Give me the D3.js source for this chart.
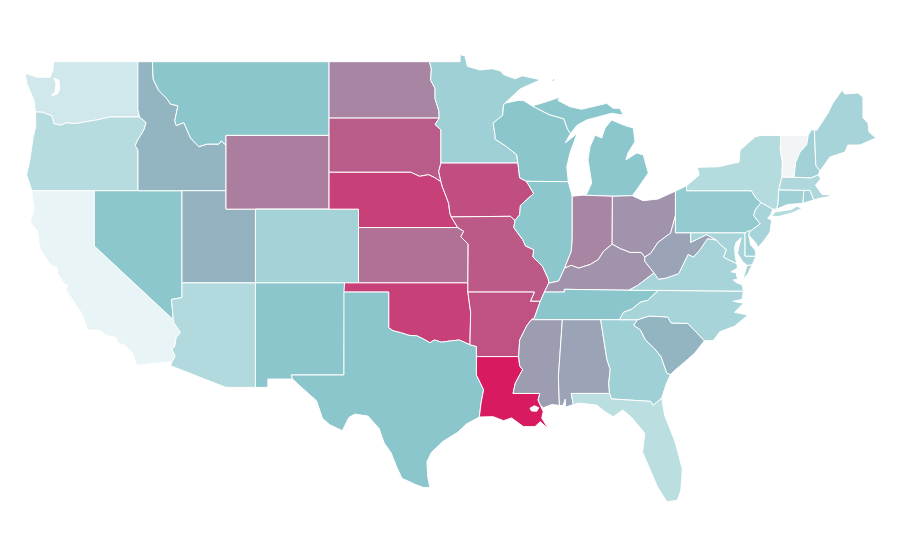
<!DOCTYPE html>
<html><head><meta charset="utf-8">
<style>html,body{margin:0;background:#fff}svg{display:block}</style>
<script src="https://cdn.jsdelivr.net/npm/d3@7"></script></head><body>
<svg id="map" width="900" height="560"></svg>
<script>
const stateNames=["WA","OR","CA","NV","ID","UT","AZ","MT","WY","CO","NM","ND","SD","NE","KS","OK","TX","MN","IA","MO","AR","LA","WI","IL","MI","IN","OH","KY","TN","MS","AL","GA","FL","SC","NC","VA","WV","MD","DE","PA","NJ","NY","CT","RI","MA","VT","NH","ME"];
const stateValues=[20,31,10,49,55,56,33,50,71,39,50,69,81,89,75,89,50,41,85,82,84,100,50,49,49,69,65,65,50,62,60,41,29,55,38,38,60,38,41,46,38,32,41,40,34,null,40,38];
const colorStops=["#ffffff","#8ac6cc","#d81b60"];
const valueStops=[0,50,100];
const noDataColor="#f3f4f6";
const lonDomain=[-124.73,-66.95];
const latDomain=[49,25];

const outlines={
WA:[[[-124.7,48.38],[-123.9,48.16],[-123,48.15],[-122.8,48.55],[-122.77,49],[-117.04,49],[-117.04,46.4],[-116.92,46],[-118.98,46],[-119.3,45.93],[-119.9,45.83],[-120.6,45.74],[-121.2,45.65],[-121.9,45.68],[-122.3,45.55],[-122.75,45.65],[-122.8,45.85],[-122.9,46.08],[-123.2,46.15],[-123.5,46.26],[-124,46.27],[-124.1,46.9],[-124.3,47.3],[-124.6,47.85]],[[-122.75,48.1],[-122.4,48],[-122.35,47.5],[-122.5,47.25],[-122.9,47.15],[-122.65,47.4],[-122.6,47.85]]],
OR:[[[-124,46.27],[-123.5,46.26],[-123.2,46.15],[-122.9,46.08],[-122.8,45.85],[-122.75,45.65],[-122.3,45.55],[-121.9,45.68],[-121.2,45.65],[-120.6,45.74],[-119.9,45.83],[-119.3,45.93],[-118.98,46],[-116.92,46],[-116.48,45.7],[-116.6,45.35],[-116.85,45],[-117.05,44.75],[-117.22,44.45],[-117.03,44.2],[-117.03,43.8],[-117.03,42],[-124.25,42],[-124.4,42.4],[-124.6,42.85],[-124.37,43.7],[-124.15,44.9],[-123.97,45.5]]],
CA:[[[-124.25,42],[-120,42],[-120,39],[-114.63,35],[-114.57,34.8],[-114.14,34.3],[-114.43,34.05],[-114.53,33.55],[-114.72,33.4],[-114.5,33],[-114.72,32.72],[-117.12,32.53],[-117.25,32.85],[-117.4,33.2],[-117.9,33.6],[-118.4,33.75],[-118.5,34.03],[-119.2,34.15],[-119.6,34.42],[-120.47,34.45],[-120.65,34.9],[-120.9,35.4],[-121.9,36.6],[-121.8,36.85],[-122.05,36.95],[-122.5,37.5],[-122.5,37.8],[-123,38],[-123.7,38.9],[-123.85,39.8],[-124.35,40.3],[-124.1,41]]],
NV:[[[-120,42],[-114.04,42],[-114.04,36.2],[-114.75,36.1],[-114.63,35],[-120,39]]],
ID:[[[-117.04,49],[-116.05,49],[-116,48.06],[-115.62,47.43],[-115.05,46.98],[-114.82,46.7],[-114.32,46.61],[-114.53,45.8],[-114.43,45.53],[-113.92,45.7],[-113.46,44.86],[-112.9,44.39],[-112.33,44.53],[-111.54,44.53],[-111.38,44.71],[-111.05,44.47],[-111.05,42],[-117.03,42],[-117.03,43.8],[-117.03,44.2],[-117.22,44.45],[-117.05,44.75],[-116.85,45],[-116.6,45.35],[-116.48,45.7],[-116.92,46],[-117.04,46.4]]],
UT:[[[-114.04,42],[-111.05,42],[-111.05,41],[-109.05,41],[-109.05,37],[-114.04,37]]],
AZ:[[[-114.04,37],[-109.05,37],[-109.05,31.33],[-111.07,31.33],[-114.81,32.5],[-114.72,32.72],[-114.5,33],[-114.72,33.4],[-114.53,33.55],[-114.43,34.05],[-114.14,34.3],[-114.57,34.8],[-114.63,35],[-114.75,36.1],[-114.04,36.2]]],
MT:[[[-116.05,49],[-104.05,49],[-104.05,45],[-111.05,45],[-111.05,44.47],[-111.38,44.71],[-111.54,44.53],[-112.33,44.53],[-112.9,44.39],[-113.46,44.86],[-113.92,45.7],[-114.43,45.53],[-114.53,45.8],[-114.32,46.61],[-114.82,46.7],[-115.05,46.98],[-115.62,47.43],[-116,48.06]]],
WY:[[[-111.05,45],[-104.05,45],[-104.05,41],[-111.05,41]]],
CO:[[[-109.05,41],[-102.05,41],[-102.05,37],[-109.05,37]]],
NM:[[[-109.05,37],[-103,37],[-103.04,32],[-106.62,32],[-106.53,31.78],[-108.21,31.78],[-108.21,31.33],[-109.05,31.33]]],
ND:[[[-104.05,49],[-97.23,49],[-97.1,48.6],[-97.15,48],[-96.85,47.55],[-96.85,47],[-96.6,46.35],[-96.56,45.94],[-104.05,45.94]]],
SD:[[[-104.05,45.94],[-96.56,45.94],[-96.85,45.6],[-96.45,45.3],[-96.45,43.5],[-96.6,43.05],[-96.45,42.49],[-96.9,42.72],[-97.3,42.87],[-97.9,42.78],[-98.5,43],[-104.05,43]]],
NE:[[[-104.05,43],[-98.5,43],[-97.9,42.78],[-97.3,42.87],[-96.9,42.72],[-96.45,42.49],[-96.35,42.2],[-96.1,41.7],[-95.92,41.3],[-95.85,40.8],[-95.75,40.58],[-95.31,40],[-102.05,40],[-102.05,41],[-104.05,41]]],
KS:[[[-102.05,40],[-95.31,40],[-94.9,39.8],[-95.1,39.5],[-94.6,39.11],[-94.62,37],[-102.05,37]]],
OK:[[[-103,37],[-94.62,37],[-94.62,36.5],[-94.43,35.4],[-94.48,33.64],[-95.2,33.9],[-95.8,33.85],[-96.4,33.78],[-96.9,33.9],[-97.2,33.75],[-97.7,33.98],[-98.1,34.13],[-98.6,34.15],[-99.2,34.3],[-99.7,34.4],[-100,34.56],[-100,36.5],[-103.04,36.5]]],
TX:[[[-103.04,36.5],[-100,36.5],[-100,34.56],[-99.7,34.4],[-99.2,34.3],[-98.6,34.15],[-98.1,34.13],[-97.7,33.98],[-97.2,33.75],[-96.9,33.9],[-96.4,33.78],[-95.8,33.85],[-95.2,33.9],[-94.48,33.64],[-94.04,33.55],[-94.04,33],[-94.04,32],[-93.55,31.2],[-93.72,30.5],[-93.84,29.72],[-94.7,29.35],[-95.3,28.9],[-96.3,28.4],[-97.1,27.8],[-97.4,27.3],[-97.35,26.5],[-97.2,25.9],[-97.65,25.9],[-98.3,26.1],[-99.1,26.4],[-99.45,27],[-99.85,27.8],[-100.3,28.3],[-100.65,29.1],[-101.4,29.77],[-102.3,29.88],[-102.7,29.7],[-103.15,28.98],[-104,29.3],[-104.5,29.65],[-104.9,30.6],[-105.95,31.35],[-106.53,31.78],[-106.62,32],[-103.04,32]]],
MN:[[[-97.23,49],[-95.15,49],[-95.15,49.38],[-94.82,49.32],[-94.65,48.75],[-93.8,48.55],[-92.95,48.62],[-92.4,48.5],[-92.2,48.3],[-91.4,48.07],[-90.93,48.24],[-89.68,48.02],[-91.05,47.53],[-92.1,46.75],[-92.2,46.65],[-92.25,46.1],[-92.9,45.67],[-92.77,45],[-92.77,44.8],[-92,44.4],[-91.3,43.95],[-91.22,43.5],[-96.45,43.5],[-96.45,45.3],[-96.85,45.6],[-96.56,45.94],[-96.6,46.35],[-96.85,47],[-96.85,47.55],[-97.15,48],[-97.1,48.6]]],
IA:[[[-96.45,43.5],[-91.22,43.5],[-91.1,42.7],[-90.64,42.51],[-90.15,41.85],[-91.05,41.2],[-91.1,40.7],[-91.42,40.38],[-91.73,40.61],[-95.75,40.58],[-95.85,40.8],[-95.92,41.3],[-96.1,41.7],[-96.35,42.2],[-96.45,42.49],[-96.6,43.05]]],
MO:[[[-95.75,40.58],[-91.73,40.61],[-91.42,40.38],[-91.5,40],[-90.9,39.35],[-90.7,39],[-90.15,38.8],[-90.2,38.4],[-89.55,37.9],[-89.15,37.2],[-89.13,36.98],[-89.42,36.5],[-89.7,36],[-90.37,36],[-90.1,36.5],[-94.62,36.5],[-94.62,37],[-94.6,39.11],[-95.1,39.5],[-94.9,39.8],[-95.31,40]]],
AR:[[[-94.62,36.5],[-90.1,36.5],[-90.37,36],[-89.7,36],[-90.1,35.1],[-90.3,35],[-90.6,34.7],[-91.1,33.9],[-91.17,33],[-94.04,33],[-94.04,33.55],[-94.48,33.64],[-94.43,35.4]]],
LA:[[[-94.04,33],[-91.17,33],[-91.1,32.5],[-90.9,32.3],[-91.4,31.55],[-91.55,31],[-89.73,31],[-89.85,30.65],[-89.7,30.37],[-89.5,30.01],[-89.6,29.67],[-89.15,29.07],[-89.7,29.47],[-90.06,29.2],[-90.85,29.2],[-91.65,29.67],[-92.2,29.52],[-92.9,29.74],[-93.84,29.72],[-93.72,30.5],[-93.55,31.2],[-94.04,32]],[[-90.4,30.2],[-90.1,30.33],[-89.8,30.22],[-89.95,30.03],[-90.3,30.05]]],
WI:[[[-92.1,46.75],[-91.2,46.9],[-90.85,46.9],[-90.25,46.6],[-89.1,46.13],[-88.1,45.9],[-87.85,45.35],[-87.65,45.1],[-88,44.6],[-87.2,45.1],[-87.68,44.05],[-87.9,43.3],[-87.8,42.49],[-90.64,42.51],[-91.1,42.7],[-91.22,43.5],[-91.3,43.95],[-92,44.4],[-92.77,44.8],[-92.77,45],[-92.9,45.67],[-92.25,46.1],[-92.2,46.65]]],
IL:[[[-90.64,42.51],[-87.8,42.49],[-87.53,41.7],[-87.53,39.35],[-87.6,38.7],[-88.05,37.8],[-88.45,37.1],[-89.13,36.98],[-89.15,37.2],[-89.55,37.9],[-90.2,38.4],[-90.15,38.8],[-90.7,39],[-90.9,39.35],[-91.5,40],[-91.42,40.38],[-91.1,40.7],[-91.05,41.2],[-90.15,41.85]]],
MI:[[[-86.82,41.76],[-84.8,41.7],[-83.45,41.73],[-83.15,42.05],[-82.36,42.96],[-82.7,43.94],[-83.15,44.05],[-83.88,43.67],[-83.74,44.05],[-83.27,44.66],[-83.38,45.4],[-84.06,45.57],[-84.85,45.84],[-85.3,45.4],[-85.53,44.86],[-85.98,45.02],[-86.32,44.39],[-86.46,43.67],[-86.21,42.42],[-86.55,41.82]],[[-90.25,46.6],[-89.2,46.85],[-88.48,47.05],[-87.8,47.43],[-88.36,47.1],[-88.5,46.9],[-87.68,46.56],[-86.89,46.42],[-85.19,46.74],[-84.74,46.47],[-84.3,46.47],[-84.06,46.1],[-84.85,46.2],[-86.55,45.84],[-87.2,45.55],[-87.65,45.1],[-87.85,45.35],[-88.1,45.9],[-89.1,46.13]],[[-89.05,47.97],[-88.7,48.1],[-88.75,47.95]]],
IN:[[[-87.53,41.7],[-86.82,41.76],[-84.8,41.7],[-84.82,39.1],[-85.4,38.72],[-85.75,38.27],[-86.3,38],[-87.1,37.8],[-87.6,37.95],[-88.05,37.8],[-87.6,38.7],[-87.53,39.35]]],
OH:[[[-84.8,41.7],[-83.45,41.73],[-82.72,41.46],[-81.7,41.55],[-80.52,41.98],[-80.52,40.64],[-80.85,39.7],[-81.7,39.2],[-82.2,38.6],[-82.6,38.4],[-82.85,38.65],[-83.6,38.65],[-84.25,38.85],[-84.82,39.1]]],
KY:[[[-89.42,36.5],[-88.07,36.5],[-88.07,36.65],[-83.68,36.6],[-83.1,36.85],[-81.97,37.54],[-82.6,38.17],[-82.6,38.4],[-82.85,38.65],[-83.6,38.65],[-84.25,38.85],[-84.82,39.1],[-85.4,38.72],[-85.75,38.27],[-86.3,38],[-87.1,37.8],[-87.6,37.95],[-88.05,37.8],[-88.45,37.1],[-89.13,36.98]]],
TN:[[[-90.3,35],[-88.2,35],[-85.6,35],[-84.32,35],[-84.05,35.4],[-83.5,35.57],[-82.9,35.95],[-82.4,36.05],[-81.68,36.59],[-83.68,36.6],[-88.07,36.65],[-88.07,36.5],[-89.42,36.5],[-89.7,36],[-90.1,35.1]]],
MS:[[[-90.3,35],[-88.2,35],[-88.47,31.9],[-88.4,30.35],[-88.9,30.4],[-89.5,30.22],[-89.7,30.37],[-89.85,30.65],[-89.73,31],[-91.55,31],[-91.4,31.55],[-90.9,32.3],[-91.1,32.5],[-91.17,33],[-91.1,33.9],[-90.6,34.7]]],
AL:[[[-88.2,35],[-85.6,35],[-85.18,32.87],[-84.95,32.3],[-85.05,31.55],[-85,31],[-87.6,31],[-87.45,30.4],[-88,30.25],[-88,30.7],[-88.15,30.35],[-88.4,30.35],[-88.47,31.9]]],
GA:[[[-85.6,35],[-83.1,35],[-83.35,34.7],[-82.9,34.45],[-82.55,33.9],[-81.9,33.4],[-81.5,33],[-81.1,32.1],[-80.85,32.03],[-81.15,31.5],[-81.45,30.75],[-82.05,30.35],[-82.2,30.57],[-84.86,30.7],[-85,31],[-85.05,31.55],[-84.95,32.3],[-85.18,32.87]]],
FL:[[[-87.6,31],[-85,31],[-84.86,30.7],[-82.2,30.57],[-82.05,30.35],[-81.45,30.75],[-81.25,29.8],[-80.55,28.4],[-80.05,26.9],[-80.15,25.75],[-80.4,25.2],[-81.1,25.12],[-81.75,25.95],[-82.15,26.7],[-82.75,27.8],[-82.6,28.84],[-83.5,29.7],[-84.1,30.1],[-84.74,29.74],[-85.3,30],[-85.87,30.37],[-87,30.47],[-87.45,30.4]]],
SC:[[[-83.35,34.7],[-83.1,35],[-82.3,35.2],[-81.05,35.15],[-80.8,34.82],[-79.68,34.8],[-78.55,33.86],[-79.2,33.2],[-79.9,32.7],[-80.5,32.3],[-80.85,32.03],[-81.1,32.1],[-81.5,33],[-81.9,33.4],[-82.55,33.9],[-82.9,34.45]]],
NC:[[[-84.32,35],[-84.05,35.4],[-83.5,35.57],[-82.9,35.95],[-82.4,36.05],[-81.68,36.59],[-75.9,36.55],[-76,36.1],[-76.6,36],[-75.9,35.9],[-76.5,35.4],[-75.6,35.25],[-76.5,34.65],[-77.5,34.35],[-77.95,33.87],[-78.55,33.86],[-79.68,34.8],[-80.8,34.82],[-81.05,35.15],[-82.3,35.2],[-83.1,35]]],
VA:[[[-83.68,36.6],[-81.68,36.59],[-75.9,36.55],[-76,36.9],[-76.35,37],[-76.6,37.15],[-76.3,37.2],[-76.4,37.55],[-76.75,37.6],[-76.3,37.8],[-76.35,38.05],[-76.9,38.25],[-77.25,38.4],[-77.05,38.8],[-77.5,39.1],[-77.72,39.32],[-78.35,39.4],[-78.85,38.8],[-79.3,38.4],[-79.65,38.55],[-80.3,37.5],[-81.2,37.25],[-81.68,37.2],[-81.97,37.54],[-83.1,36.85]],[[-75.95,37.15],[-75.65,37.95],[-75.3,37.98],[-75.6,37.5]]],
WV:[[[-80.52,40.64],[-80.52,39.72],[-79.48,39.72],[-79.48,39.2],[-78.4,39.62],[-77.72,39.32],[-78.35,39.4],[-78.85,38.8],[-79.3,38.4],[-79.65,38.55],[-80.3,37.5],[-81.2,37.25],[-81.68,37.2],[-81.97,37.54],[-82.6,38.17],[-82.6,38.4],[-82.2,38.6],[-81.7,39.2],[-80.85,39.7]]],
MD:[[[-79.48,39.72],[-75.79,39.72],[-75.79,38.45],[-75.05,38.45],[-75.3,37.98],[-75.65,37.95],[-75.95,38.15],[-76.3,38.6],[-76.2,39],[-76.05,39.45],[-76.4,39.2],[-76.5,38.9],[-76.45,38.4],[-76.35,38.05],[-76.9,38.25],[-77.25,38.4],[-77.05,38.8],[-77.5,39.1],[-77.72,39.32],[-78.4,39.62],[-79.48,39.2]]],
DE:[[[-75.79,39.72],[-75.55,39.83],[-75.45,39.8],[-75.55,39.6],[-75.4,39.05],[-75.1,38.78],[-75.05,38.45],[-75.79,38.45]]],
PA:[[[-80.52,41.98],[-79.76,42.27],[-79.76,42],[-75.35,42],[-75.05,41.6],[-74.7,41.36],[-75.1,40.95],[-75.2,40.65],[-74.75,40.2],[-75.45,39.8],[-75.55,39.83],[-75.79,39.72],[-79.48,39.72],[-80.52,39.72],[-80.52,40.64]]],
NJ:[[[-74.7,41.36],[-73.9,41],[-74.05,40.7],[-74.25,40.5],[-73.98,40.4],[-74.1,39.75],[-74.5,39.3],[-74.9,38.93],[-75.1,39.2],[-75.55,39.6],[-75.45,39.8],[-74.75,40.2],[-75.2,40.65],[-75.1,40.95]]],
NY:[[[-79.76,42.27],[-78.9,42.85],[-79.05,43.27],[-77.6,43.3],[-76.5,43.5],[-76.2,43.55],[-76.13,44.2],[-75.1,44.93],[-74.7,45],[-73.35,45],[-73.4,44.2],[-73.25,43.6],[-73.28,42.75],[-73.5,42.05],[-73.55,41.3],[-73.65,41],[-73.9,41],[-74.7,41.36],[-75.05,41.6],[-75.35,42],[-79.76,42]],[[-74,40.6],[-73.75,40.85],[-72.65,40.98],[-72.3,41.15],[-71.87,41.07],[-72.5,40.82],[-73.5,40.6]]],
CT:[[[-73.5,42.05],[-71.8,42.02],[-71.85,41.32],[-72.9,41.25],[-73.65,41],[-73.55,41.3]]],
RI:[[[-71.8,42.02],[-71.38,42.02],[-71.2,41.67],[-71.12,41.5],[-71.85,41.32]]],
MA:[[[-73.5,42.05],[-73.28,42.75],[-72.46,42.73],[-71.3,42.7],[-70.82,42.87],[-70.65,42.65],[-71,42.3],[-70.7,41.95],[-70.55,41.8],[-70,41.78],[-70.1,41.68],[-70.65,41.6],[-71.12,41.5],[-71.2,41.67],[-71.38,42.02],[-71.8,42.02]]],
VT:[[[-73.35,45],[-71.5,45],[-71.6,44.5],[-72.05,44.1],[-72.35,43.55],[-72.46,42.73],[-73.28,42.75],[-73.25,43.6],[-73.4,44.2]]],
NH:[[[-71.5,45],[-71.3,45.3],[-71.08,45.3],[-70.98,43.38],[-70.7,43.07],[-70.82,42.87],[-71.3,42.7],[-72.46,42.73],[-72.35,43.55],[-72.05,44.1],[-71.6,44.5]]],
ME:[[[-71.08,45.3],[-70.9,45.29],[-70.15,46.22],[-69.82,46.76],[-69.2,47.46],[-69,47.25],[-68.12,47.3],[-67.78,47.08],[-67.78,45.95],[-67.44,45.67],[-67.37,45.19],[-66.9,44.86],[-67.98,44.48],[-68.8,44.48],[-69,44.1],[-70.02,43.83],[-70.5,43.29],[-70.7,43.07],[-70.98,43.38]]]
};

const xScale=d3.scaleLinear().domain(lonDomain).range([450.5+14.72*(lonDomain[0]+95.8),450.5+14.72*(lonDomain[1]+95.8)]);
const yScale=d3.scaleLinear().domain(latDomain).range([61.7,61.7+18.43*24]);
const color=d3.scaleLinear().domain(valueStops).range(colorStops).interpolate(d3.interpolateRgb);
const path=d3.geoPath(d3.geoTransform({point(lon,lat){this.stream.point(xScale(lon),yScale(lat));}}));
const closeRing=r=>r.concat([r[0]]);
const features=stateNames.map((n,i)=>({type:"Feature",id:n,properties:{value:stateValues[i]},geometry:{type:"MultiPolygon",coordinates:outlines[n].map(r=>[closeRing(r)])}}));
d3.select("#map").selectAll("path").data(features).join("path")
  .attr("d",path).attr("fill",d=>d.properties.value==null?noDataColor:color(d.properties.value))
  .attr("fill-rule","evenodd").attr("stroke","#fff").attr("stroke-width",1).attr("stroke-linejoin","round");
</script></body></html>
